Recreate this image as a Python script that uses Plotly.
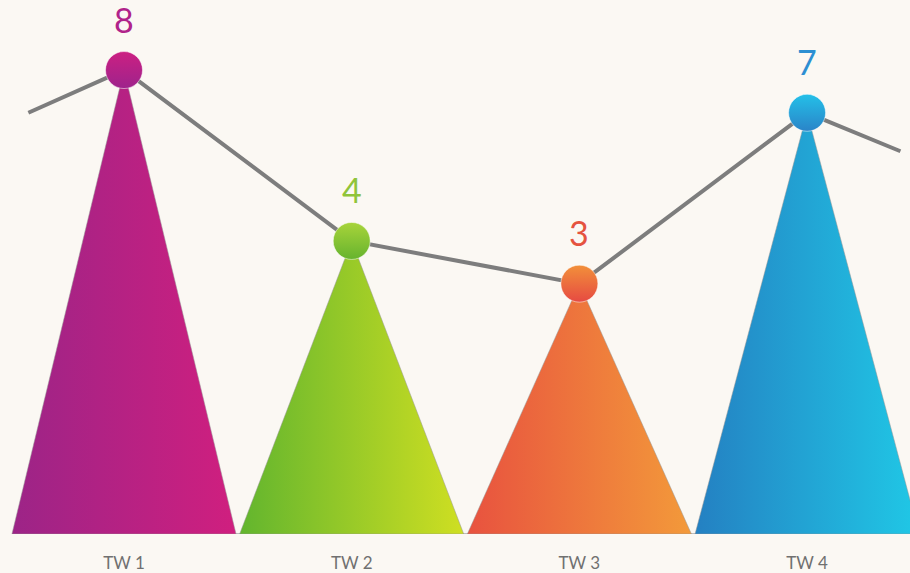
import plotly.graph_objects as go

# ---- data ----
categories = ["TW 1", "TW 2", "TW 3", "TW 4"]
values = [8, 4, 3, 7]
lead_in_value = 7.0    # where the connecting line enters from the left edge
lead_out_value = 6.1   # where the connecting line leaves at the right edge

# ---- styling ----
bg = "#fbf8f3"
tri_left = ["#9c2487", "#62b52e", "#e8523f", "#2480c2"]
tri_right = ["#d01f7f", "#cfdf22", "#f39a3a", "#20c8e6"]
dot_top = ["#cc2082", "#a8d43a", "#f2903a", "#24c0e8"]
dot_bot = ["#9e238c", "#66b32e", "#e64a42", "#2a84c8"]
num_color = ["#b0238a", "#8fc43a", "#e5533f", "#2c8fd2"]

y_min, y_max = -2.86, 9.64
hw = 0.492
x_pos = list(range(len(categories)))

fig = go.Figure()

# baseline
fig.add_shape(type="line", xref="x", yref="y", x0=-hw, x1=x_pos[-1] + hw + 0.1,
              y0=y_min, y1=y_min, line=dict(color="#bdbdbd", width=2), layer="below")

# triangles
for i, v in enumerate(values):
    xs = [x_pos[i] - hw, x_pos[i], x_pos[i] + hw, x_pos[i] - hw]
    ys = [y_min, v, y_min, y_min]
    fig.add_trace(go.Scatter(
        x=xs, y=ys, mode="lines", fill="toself",
        line=dict(color="rgba(150,150,150,0.5)", width=1),
        fillgradient=dict(type="horizontal",
                          colorscale=[[0, tri_left[i]], [1, tri_right[i]]],
                          start=x_pos[i] - hw, stop=x_pos[i] + hw),
        hoverinfo="skip", showlegend=False))

# connecting line
line_x = [-0.42] + x_pos + [x_pos[-1] + 0.41]
line_y = [lead_in_value] + values + [lead_out_value]
fig.add_trace(go.Scatter(x=line_x, y=line_y, mode="lines",
                         line=dict(color="#7d7d7d", width=4),
                         hoverinfo="skip", showlegend=False))

# dots
for i, v in enumerate(values):
    fig.add_trace(go.Scatter(
        x=[x_pos[i]], y=[v], mode="markers",
        marker=dict(size=37, color=dot_top[i],
                    gradient=dict(type="vertical", color=dot_bot[i]),
                    line=dict(color="rgba(255,255,255,0.5)", width=1)),
        hoverinfo="skip", showlegend=False))
    fig.add_annotation(x=x_pos[i], y=v, text=str(v), showarrow=False,
                       yshift=51, font=dict(family="Lato", size=34, color=num_color[i]))

fig.update_layout(
    width=910, height=573,
    margin=dict(l=0, r=0, t=0, b=39),
    paper_bgcolor=bg, plot_bgcolor=bg,
    xaxis=dict(range=[-0.5446, 3.452], tickmode="array", tickvals=x_pos,
               ticktext=categories, showgrid=False, zeroline=False, showline=False,
               ticks="outside", ticklen=14, tickcolor="rgba(0,0,0,0)",
               tickfont=dict(family="Lato", size=17, color="#707070"), fixedrange=True),
    yaxis=dict(range=[y_min, y_max], visible=False, fixedrange=True),
)

fig.write_html("out.html", config={"displayModeBar": False},
               post_script="document.body.style.margin='0';document.body.style.overflow='hidden';"
                           "document.body.style.background='" + bg + "';")
